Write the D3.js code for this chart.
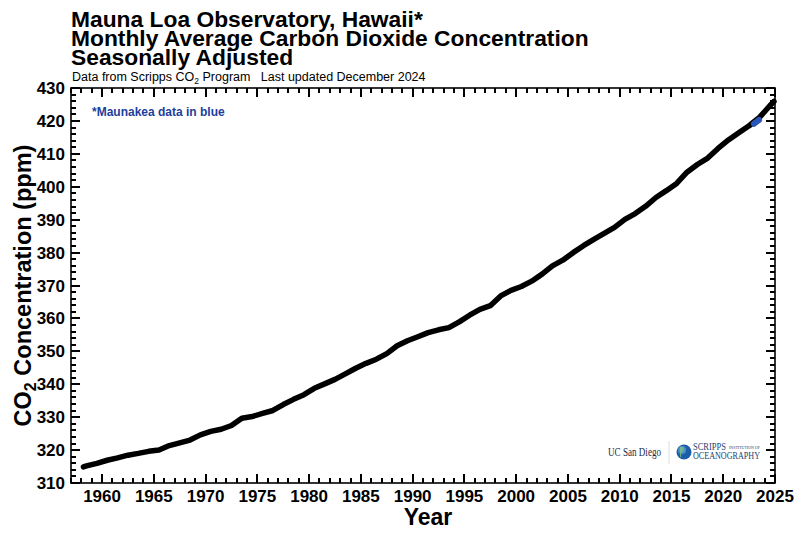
<!DOCTYPE html>
<html>
<head>
<meta charset="utf-8">
<script src="https://d3js.org/d3.v7.min.js"></script>
<style>
  body { margin: 0; background: #fff; }
  svg { font-family: "Liberation Sans", Arial, Helvetica, sans-serif; }
</style>
</head>
<body>
<svg id="chart" width="800" height="536"></svg>
<script>

// seasonally adjusted CO2 (decimal year, ppm)
const years = [1958.2, 1958.5, 1959.5, 1960.5, 1961.5, 1962.5, 1963.5, 1964.5, 1965.5, 1966.5,
  1967.5, 1968.5, 1969.5, 1970.5, 1971.5, 1972.5, 1973.5, 1974.5, 1975.5, 1976.5,
  1977.5, 1978.5, 1979.5, 1980.5, 1981.5, 1982.5, 1983.5, 1984.5, 1985.5, 1986.5,
  1987.5, 1988.5, 1989.5, 1990.5, 1991.5, 1992.5, 1993.5, 1994.5, 1995.5, 1996.5,
  1997.5, 1998.5, 1999.5, 2000.5, 2001.5, 2002.5, 2003.5, 2004.5, 2005.5, 2006.5,
  2007.5, 2008.5, 2009.5, 2010.5, 2011.5, 2012.5, 2013.5, 2014.5, 2015.5, 2016.5,
  2017.5, 2018.5, 2019.5, 2020.5, 2021.5, 2022.5, 2023.5, 2024.5, 2024.9]
const co2 = [314.9, 315.2, 315.98, 316.91, 317.64, 318.45, 318.99, 319.62, 320.04, 321.37,
  322.18, 323.05, 324.62, 325.68, 326.32, 327.46, 329.68, 330.19, 331.13, 332.03,
  333.84, 335.41, 336.84, 338.76, 340.12, 341.48, 343.15, 344.87, 346.35, 347.61,
  349.31, 351.69, 353.20, 354.45, 355.70, 356.54, 357.21, 358.96, 360.97, 362.74,
  363.88, 366.84, 368.54, 369.71, 371.32, 373.45, 375.98, 377.70, 379.98, 382.09,
  384.02, 385.83, 387.64, 390.10, 391.85, 394.06, 396.74, 398.81, 401.01, 404.41,
  406.76, 408.72, 411.65, 414.21, 416.41, 418.53, 421.08, 424.61, 425.9]

// Maunakea months (Dec 2022 - Jul 2023)
const mkYears = [2022.96, 2023.04, 2023.12, 2023.21, 2023.29, 2023.37, 2023.46]
const mkCo2 = [419.1, 419.3, 419.5, 419.7, 419.9, 420.1, 420.3]

const xMajor = [1960, 1965, 1970, 1975, 1980, 1985, 1990, 1995, 2000, 2005, 2010, 2015, 2020, 2025]
const yMajor = [310, 320, 330, 340, 350, 360, 370, 380, 390, 400, 410, 420, 430]
const xMinor = [1957, 1958, 1959, 1961, 1962, 1963, 1964, 1966, 1967, 1968, 1969, 1971, 1972,
  1973, 1974, 1976, 1977, 1978, 1979, 1981, 1982, 1983, 1984, 1986, 1987, 1988, 1989,
  1991, 1992, 1993, 1994, 1996, 1997, 1998, 1999, 2001, 2002, 2003, 2004, 2006, 2007,
  2008, 2009, 2011, 2012, 2013, 2014, 2016, 2017, 2018, 2019, 2021, 2022, 2023, 2024]
const yMinor = [312, 314, 316, 318, 322, 324, 326, 328, 332, 334, 336, 338, 342, 344, 346, 348,
  352, 354, 356, 358, 362, 364, 366, 368, 372, 374, 376, 378, 382, 384, 386, 388,
  392, 394, 396, 398, 402, 404, 406, 408, 412, 414, 416, 418, 422, 424, 426, 428]

const titleLines = [
  "Mauna Loa Observatory, Hawaii*",
  "Monthly Average Carbon Dioxide Concentration",
  "Seasonally Adjusted"
]

const svg = d3.select('#chart')

const x = d3.scaleLinear().domain([1957, 2025]).range([71, 775])
const y = d3.scaleLinear().domain([310, 430]).range([483, 88])

const left = x(1957), right = x(2025), bottom = y(310), top_ = y(430)

// frame and inward ticks (drawn first, as filled rects)
svg.append('rect')
  .attr('x', left).attr('y', top_)
  .attr('width', right - left).attr('height', bottom - top_)
  .attr('fill', 'none').attr('stroke', '#000').attr('stroke-width', 1.6)

const tickG = svg.append('g').attr('fill', '#000').attr('shape-rendering', 'crispEdges')
const addXTicks = (vals, len, w, cls) => {
  tickG.selectAll('rect.xb' + cls).data(vals).join('rect')
    .attr('class', 'xb' + cls)
    .attr('x', d => x(d) - w / 2).attr('width', w)
    .attr('y', bottom - len).attr('height', len)
  tickG.selectAll('rect.xt' + cls).data(vals).join('rect')
    .attr('class', 'xt' + cls)
    .attr('x', d => x(d) - w / 2).attr('width', w)
    .attr('y', top_).attr('height', len)
}
const addYTicks = (vals, len, w, cls) => {
  tickG.selectAll('rect.yl' + cls).data(vals).join('rect')
    .attr('class', 'yl' + cls)
    .attr('y', d => y(d) - w / 2).attr('height', w)
    .attr('x', left).attr('width', len)
  tickG.selectAll('rect.yr' + cls).data(vals).join('rect')
    .attr('class', 'yr' + cls)
    .attr('y', d => y(d) - w / 2).attr('height', w)
    .attr('x', right - len).attr('width', len)
}
addXTicks(xMajor, 9, 2, 'M')
addXTicks(xMinor, 5, 2, 'm')
addYTicks(yMajor, 9, 2, 'M')
addYTicks(yMinor, 5, 2, 'm')

// title block, one text element
const title = svg.append('text')
  .attr('x', 71)
  .attr('y', 27)
  .style('font-size', '22.8px')
  .style('font-weight', 'bold')
title.selectAll('tspan')
  .data(titleLines)
  .join('tspan')
    .attr('x', 71)
    .attr('dy', (d, i) => i ? 19 : 0)
    .text(d => d)

const sub = svg.append('text')
  .attr('x', 72)
  .attr('y', 81)
  .style('font-size', '12.5px')
sub.append('tspan').text('Data from Scripps CO')
sub.append('tspan').attr('dy', 2.5).style('font-size', '8.5px').text('2')
sub.append('tspan').attr('dy', -2.5).text(' Program\u00a0\u00a0 Last updated December 2024')

// tick labels
svg.selectAll('text.xlab')
  .data(xMajor)
  .join('text')
    .attr('class', 'xlab')
    .attr('x', d => x(d))
    .attr('y', 502)
    .attr('text-anchor', 'middle')
    .style('font-size', '17px')
    .style('font-weight', 'bold')
    .text(d => d)

svg.selectAll('text.ylab')
  .data(yMajor)
  .join('text')
    .attr('class', 'ylab')
    .attr('x', 65)
    .attr('y', d => y(d) + 6)
    .attr('text-anchor', 'end')
    .style('font-size', '17px')
    .style('font-weight', 'bold')
    .text(d => d)

svg.append('text')
  .attr('x', 428)
  .attr('y', 525)
  .attr('text-anchor', 'middle')
  .style('font-size', '23px')
  .style('font-weight', 'bold')
  .text('Year')

const yl = svg.append('text')
  .attr('transform', `translate(31,${(bottom + top_) / 2}) rotate(-90)`)
  .attr('text-anchor', 'middle')
  .style('font-size', '23.5px')
  .style('font-weight', 'bold')
yl.append('tspan').text('CO')
yl.append('tspan').attr('dy', 5).style('font-size', '16px').text('2')
yl.append('tspan').attr('dy', -5).text(' Concentration (ppm)')

svg.append('text')
  .attr('x', 92)
  .attr('y', 116)
  .style('font-size', '12px')
  .style('font-weight', 'bold')
  .attr('fill', '#1d3e9c')
  .text('*Maunakea data in blue')

// data
const co2Line = d3.line().x(d => x(d[0])).y(d => y(d[1]))
svg.append('path')
  .datum(d3.zip(years, co2))
  .attr('d', co2Line)
  .attr('fill', 'none')
  .attr('stroke', '#000')
  .attr('stroke-width', 5.5)
  .attr('stroke-linejoin', 'round')
  .attr('stroke-linecap', 'round')

svg.append('path')
  .datum(d3.zip(mkYears, mkCo2))
  .attr('d', co2Line)
  .attr('fill', 'none')
  .attr('stroke', '#2a56b8')
  .attr('stroke-width', 6)
  .attr('stroke-linejoin', 'round')
  .attr('stroke-linecap', 'round')

// logos (as text)
const serif = '"Liberation Serif", "DejaVu Serif", serif'
const logo = svg.append('g')
logo.append('text')
  .attr('x', 608)
  .attr('y', 456)
  .attr('textLength', 53)
  .attr('lengthAdjust', 'spacingAndGlyphs')
  .style('font-family', serif)
  .style('font-size', '12px')
  .attr('fill', '#182b49')
  .text('UC San Diego')
logo.append('line')
  .attr('x1', 669).attr('x2', 669).attr('y1', 441).attr('y2', 464)
  .attr('stroke', '#ddd').attr('stroke-width', 1)
logo.append('circle').attr('cx', 684).attr('cy', 452).attr('r', 7.5).attr('fill', '#1d5ea8')
logo.append('circle').attr('cx', 682).attr('cy', 450).attr('r', 4).attr('fill', '#4f8fd0')
logo.append('path')
  .attr('d', 'M680,447 q3,-1 4,2 q-1,3 -3,4 q1,3 -1,5 z')
  .attr('fill', '#7cc07a').attr('opacity', 0.8)

logo.append('text')
  .attr('x', 693).attr('y', 450)
  .attr('textLength', 33)
  .attr('lengthAdjust', 'spacingAndGlyphs')
  .style('font-family', serif)
  .style('font-size', '10.5px')
  .attr('fill', '#1f3f70')
  .text('SCRIPPS')
logo.append('text')
  .attr('x', 729).attr('y', 448.5)
  .attr('textLength', 31)
  .attr('lengthAdjust', 'spacingAndGlyphs')
  .style('font-family', serif)
  .style('font-size', '3.5px')
  .attr('fill', '#1f3f70')
  .text('INSTITUTION OF')
logo.append('text')
  .attr('x', 693).attr('y', 459)
  .attr('textLength', 67)
  .attr('lengthAdjust', 'spacingAndGlyphs')
  .style('font-family', serif)
  .style('font-size', '10px')
  .attr('fill', '#1f3f70')
  .text('OCEANOGRAPHY')

</script>
</body>
</html>
